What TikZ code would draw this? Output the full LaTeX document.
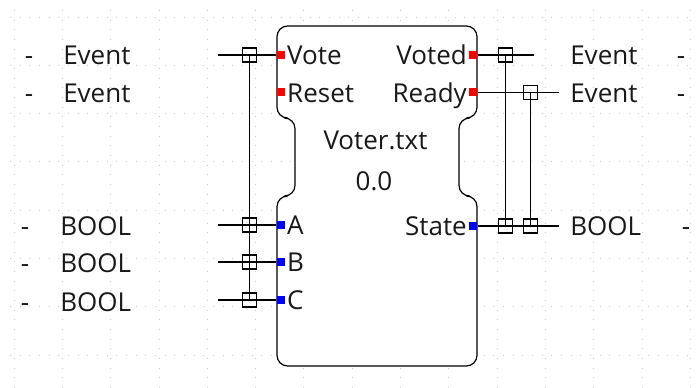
\documentclass[tikz,border=0pt]{standalone}
\usepackage{fontspec}
\setmainfont{Open Sans}
\usepackage{tikz}
\usepackage{xcolor}

\tikzset{
  portred/.style={fill=red,minimum width=6.5pt,minimum height=6pt,inner sep=0pt},
  portblue/.style={fill=blue,minimum width=6.5pt,minimum height=6pt,inner sep=0pt},
  jbox/.style={draw,line width=0.9pt,minimum size=10.5pt,inner sep=0pt},
  lbl/.style={inner sep=0pt,font=\fontsize{19.5}{22}\selectfont,text=black!90,text height=17.5pt,text depth=2.5pt}
}

\begin{document}
\begin{tikzpicture}[x=0.75pt,y=-0.75pt]
\useasboundingbox (0,0) rectangle (696,388);
% grid
\foreach \k in {0,...,14}
  \draw[gray!40,line width=0.6pt,dash pattern=on 0.8pt off 6.45pt] (14+48.3*\k,10) -- (14+48.3*\k,388);
\foreach \k in {0,...,7}
  \draw[gray!40,line width=0.6pt,dash pattern=on 0.8pt off 6.45pt] (10,17+48.3*\k) -- (696,17+48.3*\k);

% block outline
\draw[line width=0.9pt,fill=white,rounded corners=8pt] (277,26) -- (477,26) -- (477,118) -- (459,118) -- (459,196)
  -- (477,196) -- (477,366) -- (277,366) -- (277,196) -- (295,196) -- (295,118) -- (277,118) -- cycle;
\node[lbl] (name) at (375.5,140) {Voter.txt};
\node[lbl] (ver) at (374,181) {0.0};

% ports
\node[portred] (vote) at (281,55) {};
\node[portred] (reset) at (281,92.5) {};
\node[portred] (voted) at (473,55) {};
\node[portred] (ready) at (473,92.5) {};
\node[portblue] (a) at (281,225) {};
\node[portblue] (b) at (281,262) {};
\node[portblue] (c) at (281,300) {};
\node[portblue] (state) at (473,226) {};
\node[lbl,anchor=west] at ([xshift=1pt]vote.east) {Vote};
\node[lbl,anchor=west] at ([xshift=1pt]reset.east) {Reset};
\node[lbl,anchor=west] at ([xshift=1pt]a.east) {A};
\node[lbl,anchor=west] at ([xshift=1pt]b.east) {B};
\node[lbl,anchor=west] at ([xshift=1pt]c.east) {C};
\node[lbl,anchor=east] at ([xshift=-1pt]voted.west) {Voted};
\node[lbl,anchor=east] at ([xshift=-1pt]ready.west) {Ready};
\node[lbl,anchor=east] at ([xshift=-1pt]state.west) {State};

% left wires
\node[jbox] (jvote) at (249.5,55) {};
\node[jbox] (ja) at (249.5,225) {};
\node[jbox] (jb) at (249.5,262) {};
\node[jbox] (jc) at (249.5,300) {};
\coordinate (wvote) at (218,55);
\coordinate (wa) at (218,225);
\coordinate (wb) at (218,262);
\coordinate (wc) at (218,300);
\draw[line width=0.9pt] (wvote) -- (vote.west);
\draw[line width=0.9pt] (wa) -- (a.west);
\draw[line width=0.9pt] (wb) -- (b.west);
\draw[line width=0.9pt] (wc) -- (c.west);
\draw[line width=0.9pt] (jvote.center) -- (jc.center);

% right wires
\node[jbox] (jvoted) at (505.5,55) {};
\node[jbox] (jready) at (530.5,92.5) {};
\node[jbox] (js1) at (505.5,226) {};
\node[jbox] (js2) at (530.5,226) {};
\coordinate (wvoted) at (534,55);
\coordinate (wready) at (559,92.5);
\coordinate (wstate) at (559,226);
\draw[line width=0.9pt] (voted.east) -- (wvoted);
\draw[line width=0.9pt] (ready.east) -- (wready);
\draw[line width=0.9pt] (state.east) -- (wstate);
\draw[line width=0.9pt] (jvoted.center) -- (js1.center);
\draw[line width=0.9pt] (jready.center) -- (js2.center);

% variable labels
\node[lbl] (dvote) at (29,55) {-};
\node[lbl,anchor=west] (tvote) at (63,55) {Event};
\node[lbl] (dreset) at (29,93) {-};
\node[lbl,anchor=west] (treset) at (63,93) {Event};
\node[lbl] (da) at (25,226) {-};
\node[lbl,anchor=west] (ta) at (60,226) {BOOL};
\node[lbl] (db) at (25,263) {-};
\node[lbl,anchor=west] (tb) at (60,263) {BOOL};
\node[lbl] (dc) at (25,301) {-};
\node[lbl,anchor=west] (tc) at (60,301) {BOOL};
\node[lbl,anchor=west] (tvoted) at (570,55) {Event};
\node[lbl] (dvoted) at (681,55) {-};
\node[lbl,anchor=west] (tready) at (570,93) {Event};
\node[lbl] (dready) at (681,93) {-};
\node[lbl,anchor=west] (tstate) at (570,226) {BOOL};
\node[lbl] (dstate) at (686,226) {-};
\end{tikzpicture}
\end{document}
